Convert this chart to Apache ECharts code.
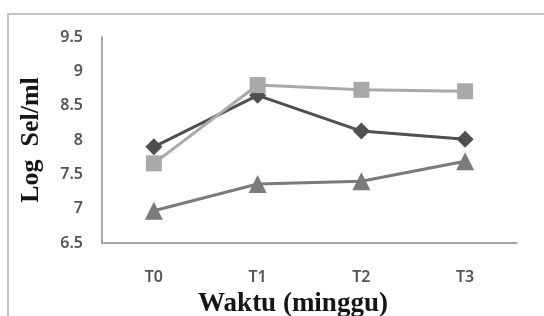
<!DOCTYPE html>
<html><head><meta charset="utf-8">
<script src="https://cdn.jsdelivr.net/npm/echarts@6/dist/echarts.min.js"></script>
<style>html,body{margin:0;padding:0;background:#fff}#c{width:544px;height:316px}</style>
</head><body><div id="c"></div>
<script>
const categories = ['T0', 'T1', 'T2', 'T3'];
const seriesDiamond = [7.90, 8.65, 8.13, 8.01];
const seriesSquare = [7.66, 8.80, 8.73, 8.71];
const seriesTriangle = [6.97, 7.36, 7.40, 7.69];
const yTicks = [6.5, 7, 7.5, 8, 8.5, 9, 9.5];
const xTitle = 'Waktu (minggu)';
const yTitle = 'Log  Sel/ml';

const chart = echarts.init(document.getElementById('c'), null, {renderer: 'canvas'});
const mk = (name, data, color, symbol, size) => ({
  name, type: 'line', data, symbol, symbolSize: size,
  lineStyle: {color, width: 3}, itemStyle: {color},
  animation: false
});
chart.setOption({
  animation: false,
  grid: {left: 102, right: 27, top: 37, bottom: 73},
  xAxis: {
    type: 'category', data: categories, boundaryGap: true,
    axisLine: {lineStyle: {color: '#8c8c8c', width: 1.5}},
    axisTick: {show: false},
    axisLabel: {color: '#555', fontFamily: 'Noto Sans', fontWeight: 600, fontSize: 16, margin: 26}
  },
  yAxis: {
    type: 'value', min: 6.5, max: 9.5, interval: 0.5,
    axisLine: {show: true, lineStyle: {color: '#8c8c8c', width: 1.5}},
    axisTick: {show: false},
    splitLine: {show: false},
    axisLabel: {color: '#555', fontFamily: 'Noto Sans', fontWeight: 600, fontSize: 16, margin: 19,
      formatter: v => yTicks.includes(v) ? String(v) : ''}
  },
  graphic: [
    {type: 'rect', shape: {x: 8, y: 14, width: 700, height: 500}, silent: true,
     style: {fill: 'none', stroke: '#c4c4c4', lineWidth: 2}, z: -1},
    {type: 'text', x: 293, y: 304, style: {text: xTitle, font: 'bold 27px "Liberation Serif"',
     fill: '#151515', align: 'center', verticalAlign: 'middle'}},
    {type: 'text', x: 31, y: 140, rotation: Math.PI / 2, style: {text: yTitle,
     font: 'bold 26px "Liberation Serif"', fill: '#151515', align: 'center', verticalAlign: 'middle'}}
  ],
  series: [
    mk('Triangle', seriesTriangle, '#7a7a7a', 'triangle', 18),
    mk('Diamond', seriesDiamond, '#4f4f4f', 'diamond', 17),
    mk('Square', seriesSquare, '#a9a9a9', 'rect', 16)
  ]
});
</script></body></html>
